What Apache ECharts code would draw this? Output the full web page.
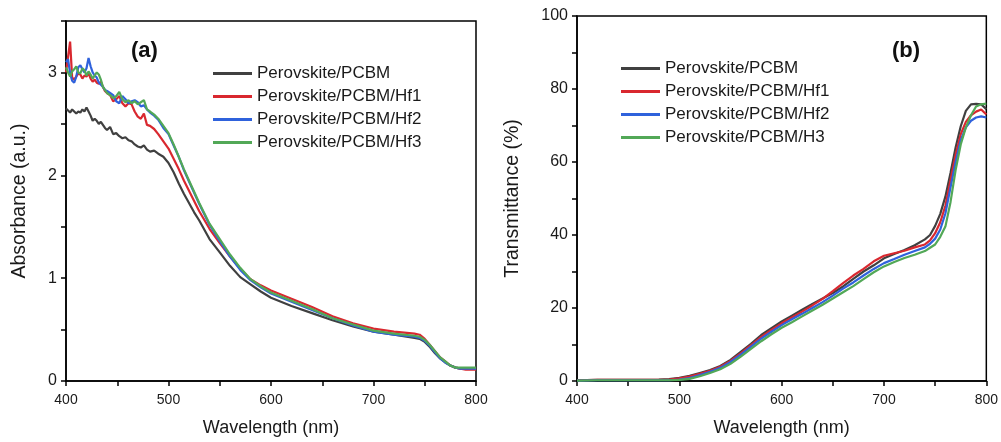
<!DOCTYPE html>
<html>
<head>
<meta charset="utf-8">
<script src="https://cdn.jsdelivr.net/npm/echarts@6/dist/echarts.min.js"></script>
<style>
html,body{margin:0;padding:0;background:#fff;}
#chart{width:1001px;height:442px;}
</style>
</head>
<body>
<div id="chart"></div>
<script>
// ---------- Panel (a): Absorbance ----------
const wlA = [400,402,404,406,408,410,412,414,416,418,
             420,422,424,426,428,430,432,434,436,438,
             440,443,446,449,452,455,458,461,464,467,
             470,473,476,479,482,486,490,495,500,505,
             510,515,520,525,530,540,550,560,570,580,
             590,600,620,640,660,680,700,720,740,745,
             750,755,760,765,770,775,780,785,790,800];
const absPCBM = [2.65,2.63,2.61,2.64,2.62,2.60,2.62,2.61,2.64,2.62,
                 2.66,2.62,2.58,2.53,2.55,2.53,2.50,2.52,2.49,2.46,
                 2.44,2.47,2.40,2.41,2.38,2.36,2.37,2.34,2.33,2.30,
                 2.28,2.27,2.29,2.25,2.23,2.24,2.21,2.18,2.12,2.03,
                 1.92,1.82,1.73,1.64,1.56,1.38,1.25,1.12,1.01,0.94,
                 0.87,0.81,0.73,0.66,0.59,0.53,0.48,0.45,0.42,0.41,
                 0.38,0.33,0.27,0.22,0.18,0.15,0.13,0.12,0.12,0.12];
const absHf1 = [3.00,3.15,3.30,2.95,2.93,2.96,2.99,2.98,2.94,2.97,
                2.96,2.99,2.94,2.91,2.93,2.90,2.89,2.91,2.86,2.82,
                2.80,2.78,2.72,2.74,2.77,2.70,2.67,2.70,2.69,2.62,
                2.57,2.55,2.60,2.49,2.48,2.45,2.40,2.33,2.26,2.16,
                2.06,1.95,1.85,1.75,1.65,1.48,1.34,1.21,1.09,0.99,
                0.93,0.88,0.80,0.72,0.63,0.56,0.51,0.48,0.46,0.45,
                0.41,0.35,0.29,0.23,0.19,0.15,0.13,0.12,0.11,0.11];
const absHf2 = [3.10,3.13,2.99,2.92,2.90,2.96,3.05,3.07,3.03,3.00,
                3.04,3.14,3.06,3.00,2.97,2.95,2.90,2.88,2.86,2.83,
                2.82,2.80,2.78,2.72,2.70,2.77,2.74,2.70,2.72,2.73,
                2.71,2.67,2.68,2.64,2.61,2.58,2.54,2.46,2.40,2.29,
                2.18,2.05,1.94,1.83,1.72,1.52,1.36,1.21,1.08,0.98,
                0.91,0.85,0.77,0.69,0.61,0.54,0.48,0.45,0.43,0.42,
                0.39,0.34,0.28,0.22,0.18,0.15,0.13,0.12,0.12,0.12];
const absHf3 = [3.05,3.00,2.96,3.01,3.03,3.06,3.00,2.99,3.04,3.02,
                2.97,3.01,2.98,2.94,2.97,3.00,2.98,2.93,2.86,2.83,
                2.80,2.78,2.75,2.77,2.81,2.74,2.71,2.73,2.70,2.72,
                2.69,2.71,2.73,2.64,2.62,2.59,2.55,2.48,2.41,2.30,
                2.18,2.06,1.95,1.84,1.73,1.53,1.38,1.23,1.10,0.99,
                0.92,0.86,0.78,0.70,0.61,0.55,0.49,0.46,0.44,0.43,
                0.40,0.35,0.29,0.23,0.19,0.15,0.13,0.13,0.13,0.13];
const namesA = ['Perovskite/PCBM','Perovskite/PCBM/Hf1','Perovskite/PCBM/Hf2','Perovskite/PCBM/Hf3'];

// ---------- Panel (b): Transmittance ----------
const wlB = [400,420,440,460,480,490,500,510,520,530,
             540,550,560,570,580,590,600,610,620,630,
             640,650,660,670,680,690,700,710,720,730,
             740,745,750,755,760,765,770,775,780,785,
             790,795,800];
const trPCBM = [0.2,0.3,0.3,0.3,0.4,0.5,0.9,1.4,2.2,3.0,
                4.1,5.8,8.0,10.2,12.6,14.5,16.3,17.9,19.5,21.1,
                22.6,24.1,25.9,28.0,30.0,31.7,33.6,34.8,35.9,37.2,
                38.8,40.0,42.5,45.8,50.5,57.0,64.0,69.8,74.0,75.8,
                75.9,75.8,74.5];
const trHf1 = [0.2,0.3,0.3,0.3,0.3,0.4,0.7,1.2,2.0,2.8,
               3.9,5.5,7.6,9.8,12.1,14.0,15.8,17.4,19.0,20.7,
               22.5,24.6,26.8,28.9,30.7,32.8,34.3,35.0,35.7,36.6,
               37.4,38.5,40.5,43.5,48.0,55.0,62.0,67.6,71.0,72.8,
               73.8,74.4,73.0];
const trHf2 = [0.1,0.2,0.2,0.2,0.2,0.2,0.4,0.8,1.6,2.5,
               3.6,5.2,7.2,9.4,11.6,13.5,15.3,16.9,18.4,20.0,
               21.6,23.4,25.3,27.0,28.9,30.7,32.3,33.4,34.6,35.6,
               36.6,37.6,39.0,41.5,45.9,53.0,60.0,66.0,69.5,71.3,
               72.2,72.5,72.2];
const trH3 = [0.1,0.2,0.2,0.2,0.2,0.2,0.3,0.6,1.3,2.2,
              3.2,4.7,6.7,8.8,10.9,12.8,14.6,16.1,17.7,19.3,
              20.9,22.6,24.3,26.0,27.9,29.8,31.4,32.6,33.7,34.6,
              35.6,36.5,37.4,39.5,42.3,49.0,57.8,64.8,69.5,72.8,
              75.2,75.8,76.0];
const namesB = ['Perovskite/PCBM','Perovskite/PCBM/Hf1','Perovskite/PCBM/Hf2','Perovskite/PCBM/H3'];

const colors = ['#404040','#d9282f','#2f62dc','#52a857'];
const FONT = '"Liberation Sans", Arial, sans-serif';
const TXT = '#1a1a1a';

function zip(x, y){ return x.map((v,i)=>[v, y[i]]); }

function xAxisCfg(gi){
  return {
    type:'value', gridIndex:gi, min:400, max:800, interval:50,
    name:'Wavelength (nm)', nameLocation:'middle', nameGap:38,
    nameTextStyle:{fontSize:18, color:TXT, fontFamily:FONT},
    axisLine:{show:true, lineStyle:{color:'#000', width:1.5}},
    axisTick:{show:true, inside:false, length:5, lineStyle:{color:'#000', width:1.5}},
    axisLabel:{fontSize:14, color:TXT, fontFamily:FONT, margin:12,
      formatter:v=> (v % 100 === 0 ? String(v) : '')},
    splitLine:{show:false}
  };
}
function yAxisCfg(gi, max, interval, labelStep, name, gap){
  return {
    type:'value', gridIndex:gi, min:0, max:max, interval:interval,
    name:name, nameLocation:'middle', nameGap:gap,
    nameTextStyle:{fontSize:19.5, color:TXT, fontFamily:FONT},
    axisLine:{show:true, lineStyle:{color:'#000', width:1.5}},
    axisTick:{show:true, inside:false, length:5, lineStyle:{color:'#000', width:1.5}},
    axisLabel:{fontSize:16, color:TXT, fontFamily:FONT, margin:9,
      formatter:v=> (Math.abs(v/labelStep - Math.round(v/labelStep)) < 1e-6 ? String(v) : '')},
    splitLine:{show:false}
  };
}
function lineSeries(name, x, y, color, xi, yi){
  return {type:'line', name:name, xAxisIndex:xi, yAxisIndex:yi, data:zip(x,y),
    showSymbol:false, symbol:'none', lineStyle:{color:color, width:2.2}, itemStyle:{color:color},
    emphasis:{disabled:true}};
}
function legendCfg(left, top, names){
  return {left:left, top:top, orient:'vertical', padding:0, itemWidth:39, itemHeight:3,
    itemGap:6, icon:'rect', data:names, selectedMode:false,
    textStyle:{fontSize:17, color:TXT, fontFamily:FONT, lineHeight:17}};
}

const chart = echarts.init(document.getElementById('chart'), null, {renderer:'canvas'});
chart.setOption({
  animation:false,
  backgroundColor:'#fff',
  grid:[
    {left:66, top:21, width:410, height:360, show:true, borderColor:'#000', borderWidth:1.5, containLabel:false},
    {left:577, top:16, width:411, height:365, show:true, borderColor:'#000', borderWidth:1.5, containLabel:false}
  ],
  xAxis:[xAxisCfg(0), xAxisCfg(1)],
  yAxis:[yAxisCfg(0, 3.5, 0.5, 1, 'Absorbance (a.u.)', 36), yAxisCfg(1, 100, 10, 20, 'Transmittance (%)', 54)],
  legend:[legendCfg(213, 65, namesA), legendCfg(621, 60, namesB)],
  graphic:[
    {type:'text', left:131, top:40, style:{text:'(a)', font:'bold 22px '+FONT, fill:'#111'}},
    {type:'text', left:892, top:40, style:{text:'(b)', font:'bold 22px '+FONT, fill:'#111'}}
  ],
  series:[
    lineSeries(namesA[0], wlA, absPCBM, colors[0], 0, 0),
    lineSeries(namesA[1], wlA, absHf1, colors[1], 0, 0),
    lineSeries(namesA[2], wlA, absHf2, colors[2], 0, 0),
    lineSeries(namesA[3], wlA, absHf3, colors[3], 0, 0),
    lineSeries(namesB[0], wlB, trPCBM, colors[0], 1, 1),
    lineSeries(namesB[1], wlB, trHf1, colors[1], 1, 1),
    lineSeries(namesB[2], wlB, trHf2, colors[2], 1, 1),
    lineSeries(namesB[3], wlB, trH3, colors[3], 1, 1)
  ]
});
</script>
</body>
</html>
